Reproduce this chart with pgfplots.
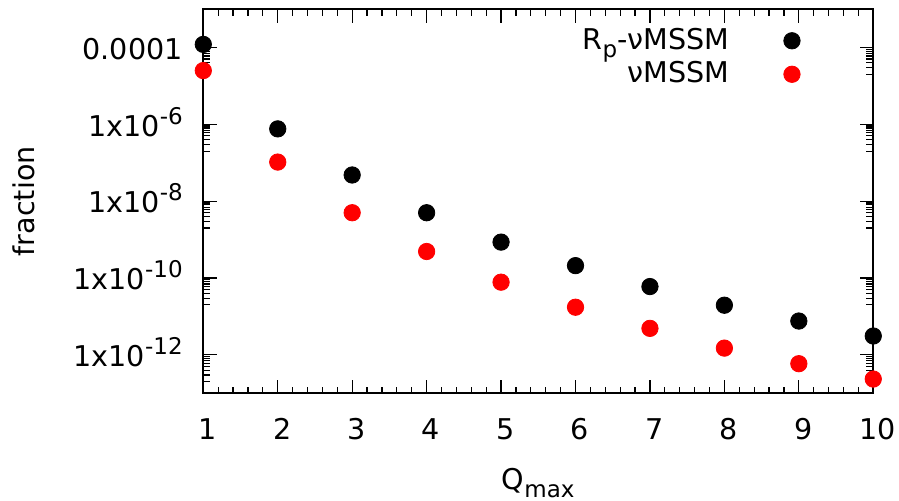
\documentclass[border=0pt]{standalone}
\usepackage{pgfplots}
\pgfplotsset{compat=1.18}
\usepackage{fontspec}
\setmainfont{DejaVu Sans}

\newcommand{\sps}[1]{\raisebox{0.42em}{\fontsize{11.5}{12}\selectfont #1}}
\newcommand{\sbs}[1]{\raisebox{-0.3em}{\fontsize{11.5}{12}\selectfont #1}}

\begin{document}
\fontsize{14.3}{17}\selectfont
\begin{tikzpicture}
\begin{axis}[
    scale only axis,
    width=335pt, height=192.15pt,
    ymode=log,
    xmin=1, xmax=10,
    ymin=1e-13, ymax=1e-3,
    xtick={1,...,10},
    minor x tick num=4,
    ytick={1e-12,1e-10,1e-8,1e-6,1e-4},
    yticklabels={1x10\sps{-12},1x10\sps{-10},1x10\sps{-8},1x10\sps{-6},0.0001},
    minor ytick={2e-5,3e-5,4e-5,5e-5,6e-5,7e-5,8e-5,9e-5,
                 2e-7,3e-7,4e-7,5e-7,6e-7,7e-7,8e-7,9e-7,
                 2e-9,3e-9,4e-9,5e-9,6e-9,7e-9,8e-9,9e-9,
                 2e-11,3e-11,4e-11,5e-11,6e-11,7e-11,8e-11,9e-11,
                 2e-13,3e-13,4e-13,5e-13,6e-13,7e-13,8e-13,9e-13},
    tick align=inside,
    major tick length=6.8pt,
    minor tick length=3.4pt,
    every tick/.style={black, line width=0.6pt},
    axis line style={line width=1pt},
    xticklabel style={anchor=base, inner sep=0pt, yshift=-23pt, xshift=2.2pt},
    yticklabel style={anchor=base east, inner sep=0pt, xshift=-10.1pt, yshift=-5.9pt},
    /pgf/number format/assume math mode=true,
    xticklabel={\pgfmathprintnumber[assume math mode=true]{\tick}},
    xlabel={Q\sbs{max}},
    ylabel={fraction},
    every axis x label/.style={at={(axis description cs:0.5,0)}, anchor=base, yshift=-47.9pt},
    every axis y label/.style={at={(axis description cs:0,0.5)}, xshift=-84.2pt, rotate=90, anchor=base},
    legend plot pos=right,
    legend cell align=right,
    legend style={draw=none, fill=none, inner xsep=0pt, inner ysep=0pt,
                  at={(0.8915,0.962)}, anchor=north east,
                  column sep=25.3pt, row sep=0pt, font=\fontsize{14.3}{17}\selectfont},
]
\addplot[only marks, mark=*, mark size=4.1pt, black] coordinates {
  (1,1.2e-4) (2,7.6e-7) (3,4.8e-8) (4,5.0e-9) (5,8.6e-10)
  (6,2.1e-10) (7,6.0e-11) (8,1.96e-11) (9,7.6e-12) (10,3.1e-12)
};
\addlegendentry{R\sbs{p}-νMSSM}
\addplot[only marks, mark=*, mark size=4.1pt, red] coordinates {
  (1,2.5e-5) (2,1.04e-7) (3,5.0e-9) (4,4.9e-10) (5,7.8e-11)
  (6,1.74e-11) (7,4.9e-12) (8,1.5e-12) (9,5.9e-13) (10,2.35e-13)
};
\addlegendentry{νMSSM}
\end{axis}
\pgfresetboundingbox
\path[use as bounding box] (-101.65pt,-53.35pt) rectangle (347.85pt,196.65pt);
\end{tikzpicture}
\end{document}
